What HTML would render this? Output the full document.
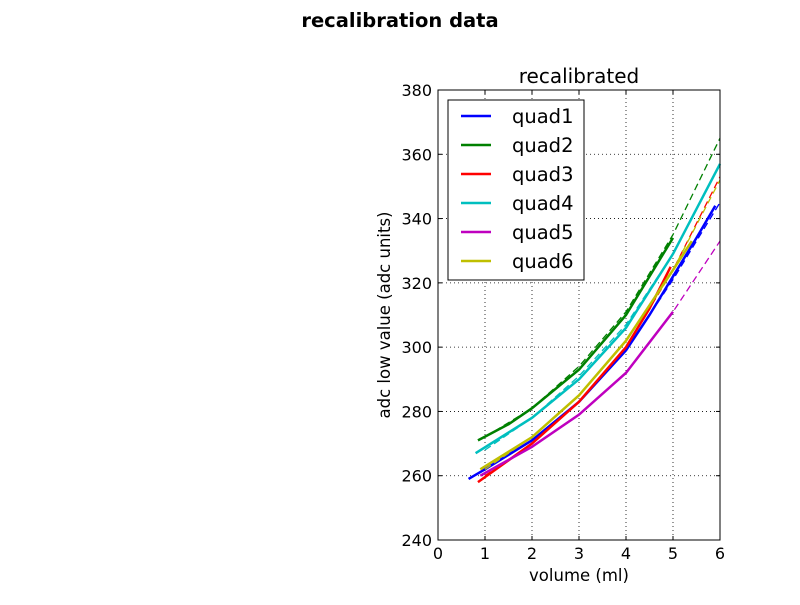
<!DOCTYPE html>
<html><head><meta charset="utf-8"><style>
body{margin:0;background:#fff;}
svg text{font-family:"DejaVu Sans","Liberation Sans",sans-serif;}
</style></head><body>
<svg id="c" width="800" height="600" xmlns="http://www.w3.org/2000/svg">
<rect width="800" height="600" fill="#fff"/>
<text x="400" y="27" text-anchor="middle" font-size="19.5" font-weight="bold">recalibration data</text>
<text x="579" y="83" text-anchor="middle" font-size="20">recalibrated</text>
<g id="grid"></g><g id="series"></g><g id="axes"></g><g id="legend"></g>
<text x="579" y="581" text-anchor="middle" font-size="16.5">volume (ml)</text>
<text transform="translate(390,315) rotate(-90)" text-anchor="middle" font-size="16.5">adc low value (adc units)</text>
</svg>
<script>
const names=["quad1","quad2","quad3","quad4","quad5","quad6"];
const colors=["#0000ff","#008000","#ff0000","#00bfbf","#bf00bf","#bfbf00"];
const xTicks=[0,1,2,3,4,5,6];
const yTicks=[240,260,280,300,320,340,360,380];
const q1x=[0.65,1,2,3,4,4.5,5,5.5,5.9], q1y=[259,262,271,283,299,310,322,334,344];
const q2x=[0.85,1.5,2,3,4,5], q2y=[271,276,281,293,310,334];
const q3x=[0.85,2,3,4,4.5,4.95], q3y=[258,270,283,300,312,325];
const q4x=[0.8,2,3,4,5,6], q4y=[267,278,290,306,329,357];
const q5x=[0.9,2,3,4,5], q5y=[260,269,279,292,311];
const q6x=[0.9,2,3,4,5,5.4], q6y=[262,272,285,302,324,333];
const fitX=[1,2,3,4,5,6];
const f1=[262,271,283,299,321,345];
const f2=[272,281,294,311,335,365];
const f3=[260,270,283,300,324,353];
const f4=[268,278,291,307,329,357];
const f5=[261,269,279,292,311,333];
const f6=[262,272,285,302,324,352];
const L=438,R=720,T=90,B=540;
const sx=v=>L+(v-0)/6*(R-L), sy=v=>B-(v-240)/140*(B-T);
const NS="http://www.w3.org/2000/svg";
function mk(t,a,p){const e=document.createElementNS(NS,t);for(const k in a)e.setAttribute(k,a[k]);p.appendChild(e);return e;}
const grid=document.getElementById('grid'),axes=document.getElementById('axes'),ser=document.getElementById('series'),leg=document.getElementById('legend');
xTicks.forEach(v=>{const x=sx(v);
 const g=mk('line',{x1:x,x2:x,y1:T,y2:B,stroke:'#000','stroke-dasharray':'1,3','stroke-width':0.8},grid);
 
 
 mk('line',{x1:x,x2:x,y1:B,y2:B-4,stroke:'#000'},axes);mk('line',{x1:x,x2:x,y1:T,y2:T+4,stroke:'#000'},axes);
 const t=mk('text',{x:x,y:B+19,'text-anchor':'middle','font-size':16},axes);t.textContent=v;
 
 });
yTicks.forEach(v=>{const y=sy(v);
 const g=mk('line',{x1:L,x2:R,y1:y,y2:y,stroke:'#000','stroke-dasharray':'1,3','stroke-width':0.8},grid);
 
 
 mk('line',{x1:L,x2:L+4,y1:y,y2:y,stroke:'#000'},axes);mk('line',{x1:R,x2:R-4,y1:y,y2:y,stroke:'#000'},axes);
 const t=mk('text',{x:L-6,y:y+6,'text-anchor':'end','font-size':16},axes);t.textContent=v;
 
 });
const fr=mk('rect',{x:L,y:T,width:R-L,height:B-T,fill:'none',stroke:'#000'},axes);


const SX=[q1x,q2x,q3x,q4x,q5x,q6x],SY=[q1y,q2y,q3y,q4y,q5y,q6y],FY=[f1,f2,f3,f4,f5,f6];
for(let i=0;i<6;i++){
 const d=FY[i].map((v,j)=>sx(fitX[j])+','+sy(v)).join(' ');
 const fl=mk('polyline',{points:d,fill:'none',stroke:colors[i],'stroke-width':1.3,'stroke-dasharray':'7,4'},ser);
 
 
 const p=SY[i].map((v,j)=>sx(SX[i][j])+','+sy(v)).join(' ');
 const sl=mk('polyline',{points:p,fill:'none',stroke:colors[i],'stroke-width':2.5},ser);
 
 
}
const lb=mk('rect',{x:448,y:100,width:136,height:180,fill:'#fff',stroke:'#000'},leg);


names.forEach((n,i)=>{const y=116+i*29;
 const l=mk('line',{x1:461,x2:491,y1:y,y2:y,stroke:colors[i],'stroke-width':2.5},leg);
 
 
 const t=mk('text',{x:512,y:y+7,'font-size':19.5},leg);t.textContent=n;
 
 });
</script>
</body></html>
